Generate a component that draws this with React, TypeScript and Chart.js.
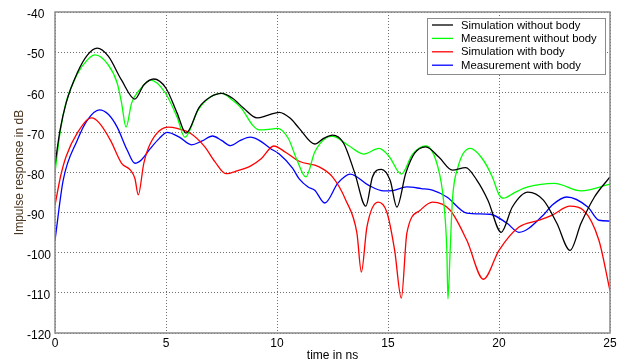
import React, { useEffect, useRef } from "react";
import { Chart, registerables } from "chart.js";

Chart.register(...registerables);

// Impulse response curves (time in ns, level in dB)
const simNoBodyTime = [0, 0.23, 0.5, 1.0, 1.45, 1.9, 2.4, 3.0, 3.6, 4.0, 4.45, 5.0, 5.5, 5.9, 6.5, 7.0, 7.5, 8.0, 8.5, 9.1, 9.6, 10.1, 10.6, 11.0, 11.7, 12.1, 12.5, 13.0, 13.5, 14.0, 14.3, 14.7, 15.1, 15.4, 15.8, 16.2, 16.7, 17.3, 17.9, 18.5, 19.0, 19.5, 20.1, 20.6, 21.3, 22.0, 22.6, 23.2, 23.7, 24.3, 25];
const simNoBodyDb = [-78, -69.4, -62.7, -55.2, -50.8, -49, -51, -57, -61.7, -58.2, -56.7, -59, -65.2, -70.2, -63.7, -61.2, -60.3, -61.5, -64, -66.4, -65.7, -65, -66.5, -69, -72.9, -71.5, -70.7, -72.7, -80.1, -88.4, -81.1, -79.2, -82, -88.6, -80.2, -75.2, -73.6, -76.2, -79.4, -78.8, -81.9, -86.9, -94.9, -88.6, -84.9, -86.9, -92.6, -99.4, -92.6, -86.1, -81.1];

const measNoBodyTime = [0, 0.23, 0.5, 1.0, 1.45, 1.8, 2.4, 2.8, 3.0, 3.2, 3.45, 3.8, 4.3, 4.95, 5.5, 5.85, 6.45, 7.0, 7.5, 8.0, 8.4, 8.9, 9.2, 9.7, 10.0, 10.5, 10.9, 11.3, 11.7, 12.2, 12.5, 13.2, 13.9, 14.6, 15.05, 15.6, 16.1, 16.7, 17.25, 17.5, 17.65, 17.7, 17.8, 17.9, 18.15, 18.7, 19.2, 19.7, 20.0, 20.2, 20.7, 21.3, 22.5, 23.7, 25];
const measNoBodyDb = [-80, -70, -62.5, -55.5, -52, -50.7, -53.2, -57.7, -62.7, -68.7, -62.7, -59.5, -57, -60, -66.2, -71.2, -64.4, -61.2, -60.3, -62, -64, -68.2, -69.4, -69.2, -69, -71.4, -76.9, -81.1, -74.9, -71.4, -71, -73.2, -75.4, -74, -76, -80.4, -75.5, -73.4, -78.7, -86.9, -99.4, -111.5, -99.4, -87, -78.7, -74, -76.2, -81.1, -85.5, -86.4, -85, -83.6, -82.7, -84.6, -82.9];

const simBodyTime = [0, 0.25, 0.5, 1.0, 1.65, 2.0, 2.5, 3.0, 3.4, 3.6, 3.75, 4.0, 4.3, 5.1, 5.5, 6.1, 6.75, 7.2, 7.7, 8.2, 8.8, 9.3, 9.85, 10.4, 11.0, 11.9, 12.5, 13.1, 13.6, 13.8, 14.05, 14.55, 14.95, 15.3, 15.6, 15.85, 16.45, 17.0, 17.8, 18.55, 19.3, 20.0, 20.9, 21.8, 22.4, 23.2, 23.8, 24.5, 25];
const simBodyDb = [-88.2, -81, -76, -70.2, -66.4, -67.7, -72, -77.7, -79.4, -81.5, -85.6, -77.7, -72.7, -68.7, -69, -70.2, -73.6, -77.3, -80.3, -79.6, -78.4, -76.5, -73.4, -75, -77.2, -78.6, -81.1, -86.9, -95.1, -104.8, -93.6, -87.4, -89.9, -99.4, -111.3, -95.1, -89.4, -87.4, -89.4, -96.9, -106.6, -99.4, -93.6, -91.9, -90.6, -88.4, -89.4, -96.9, -109.5];

const measBodyTime = [0, 0.37, 1.0, 1.45, 2.0, 2.4, 2.8, 3.25, 3.6, 3.9, 4.3, 4.7, 5.05, 5.6, 6.15, 6.6, 7.1, 7.5, 7.9, 8.35, 8.8, 9.2, 9.7, 10.1, 10.7, 11.0, 11.4, 11.7, 12.15, 12.75, 13.3, 14.1, 14.8, 15.2, 15.85, 16.5, 17.0, 17.65, 18.55, 19.6, 20.35, 20.9, 22.0, 22.4, 23.05, 24.0, 24.5, 25];
const measBodyDb = [-96.9, -81.9, -72, -67, -64.4, -65.5, -68.7, -74.4, -77.7, -76.8, -74, -71.5, -70, -71.2, -73.1, -72.2, -70.9, -72, -73.3, -72, -71.2, -72, -74, -75.4, -78.9, -81.6, -83.6, -84.4, -87.6, -82.6, -80.4, -83.1, -84.6, -84.5, -83.6, -84, -84.4, -86.1, -90.1, -90.4, -92.6, -94.9, -90.6, -88.1, -86.1, -88.6, -91.9, -92.1];

const seriesLabels = [
  "Simulation without body",
  "Measurement without body",
  "Simulation with body",
  "Measurement with body",
];
const seriesColors = ["#000000", "#00ff00", "#ff0000", "#0000ff"];

const xTicks = [0, 5, 10, 15, 20, 25];
const yTicks = [-40, -50, -60, -70, -80, -90, -100, -110, -120];

const FONT = '"Liberation Sans", Arial, sans-serif';

const toPoints = (t: number[], v: number[]) => t.map((x, i) => ({ x, y: v[i] }));

// Frame around the plot, vertical y-axis title and the boxed legend in the upper right
const decorations = {
  id: "decorations",
  afterDraw(chart: any) {
    const { ctx, chartArea } = chart;
    ctx.save();
    ctx.strokeStyle = "#8a8a8a";
    ctx.lineWidth = 1.5;
    ctx.strokeRect(chartArea.left, chartArea.top, chartArea.right - chartArea.left, chartArea.bottom - chartArea.top);

    // y-axis title
    ctx.save();
    ctx.translate(20, (chartArea.top + chartArea.bottom) / 2);
    ctx.rotate(-Math.PI / 2);
    ctx.fillStyle = "#4a3520";
    ctx.font = `12px ${FONT}`;
    ctx.textAlign = "center";
    ctx.textBaseline = "middle";
    ctx.fillText("Impulse response in dB", 0, 0);
    ctx.restore();

    // legend
    const bx = 427, by = 18, bw = 178, bh = 56;
    ctx.fillStyle = "#ffffff";
    ctx.fillRect(bx, by, bw, bh);
    ctx.strokeStyle = "#8a8a8a";
    ctx.lineWidth = 1;
    ctx.strokeRect(bx + 0.5, by + 0.5, bw, bh);
    ctx.font = `11.3px ${FONT}`;
    ctx.textAlign = "left";
    ctx.textBaseline = "middle";
    chart.data.datasets.forEach((ds: any, i: number) => {
      const y = by + 7 + i * 13.4;
      ctx.strokeStyle = ds.borderColor;
      ctx.lineWidth = 1.3;
      ctx.beginPath();
      ctx.moveTo(bx + 5, y);
      ctx.lineTo(bx + 26, y);
      ctx.stroke();
      ctx.fillStyle = "#000000";
      ctx.fillText(ds.label, bx + 34, y + 0.5);
    });
    ctx.restore();
  },
};

export default function App() {
  const canvasRef = useRef<HTMLCanvasElement | null>(null);

  useEffect(() => {
    const canvas = canvasRef.current;
    if (!canvas) return;
    const series = [
      toPoints(simNoBodyTime, simNoBodyDb),
      toPoints(measNoBodyTime, measNoBodyDb),
      toPoints(simBodyTime, simBodyDb),
      toPoints(measBodyTime, measBodyDb),
    ];
    const chart = new Chart(canvas, {
      type: "line",
      data: {
        datasets: series.map((data, i) => ({
          label: seriesLabels[i],
          data,
          borderColor: seriesColors[i],
          backgroundColor: seriesColors[i],
          borderWidth: 1.3,
          pointRadius: 0,
          fill: false,
          cubicInterpolationMode: "monotone" as const,
        })),
      },
      options: {
        responsive: false,
        animation: false,
        devicePixelRatio: 1,
        layout: { padding: { left: 27, top: 12, right: 19, bottom: 0 } },
        plugins: {
          legend: { display: false },
          tooltip: { enabled: false },
        },
        scales: {
          x: {
            type: "linear",
            min: 0,
            max: 25,
            afterBuildTicks: (scale: any) => {
              scale.ticks = xTicks.map((value) => ({ value }));
            },
            afterFit: (scale: any) => {
              scale.height = 31;
            },
            grid: { color: "#6e6e6e", lineWidth: 1, drawTicks: false },
            border: { display: false, dash: [1, 2] },
            ticks: {
              padding: 3,
              color: "#000000",
              font: { family: FONT, size: 12 },
              maxRotation: 0,
            },
            title: {
              display: true,
              text: "time in ns",
              color: "#000000",
              font: { family: FONT, size: 12 },
              padding: { top: 0, bottom: 1 },
            },
          },
          y: {
            type: "linear",
            min: -120,
            max: -40,
            afterBuildTicks: (scale: any) => {
              scale.ticks = yTicks.map((value) => ({ value }));
            },
            afterFit: (scale: any) => {
              scale.width = 28;
            },
            grid: { color: "#6e6e6e", lineWidth: 1, drawTicks: false },
            border: { display: false, dash: [1, 2] },
            ticks: {
              crossAlign: "far",
              labelOffset: 3,
              padding: 4,
              color: "#000000",
              font: { family: FONT, size: 12 },
            },
          },
        },
      },
      plugins: [decorations],
    });
    return () => chart.destroy();
  }, []);

  return (
    <div style={{ position: "absolute", left: 0, top: 0, width: 629, height: 364, background: "#ffffff" }}>
      <canvas ref={canvasRef} width={629} height={364} />
    </div>
  );
}
